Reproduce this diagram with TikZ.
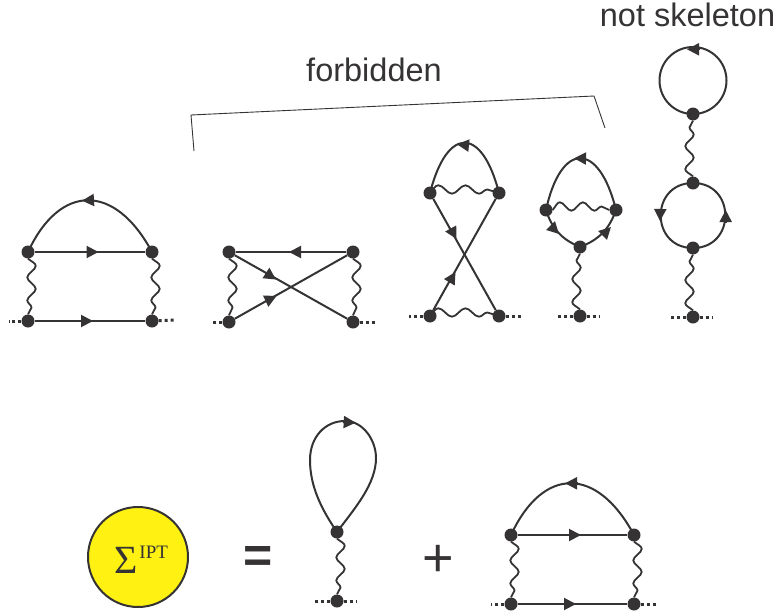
\documentclass[tikz,border=0pt]{standalone}
\usepackage{fontspec}
\setmainfont{Liberation Sans}
\newfontfamily\serifface{Liberation Serif}
\usetikzlibrary{arrows.meta,decorations.pathmorphing}
\definecolor{ink}{HTML}{353334}
\definecolor{selfyellow}{HTML}{FFF212}
\tikzset{
	vertex/.style={circle,fill=ink,inner sep=0pt,minimum size=13pt},
	fermion/.style={draw=ink,line width=2pt},
	tip/.style={draw=ink,line width=2pt,-{Triangle[length=12pt,width=12pt]}},
	photon/.style={draw=ink,line width=1.8pt,decorate,decoration={snake,amplitude=4.2pt,segment length=#1,raise=3.5pt}},
	photon/.default=23pt,
	ext/.style={draw=ink,line width=3pt,dash pattern=on 3pt off 3pt},
	textlabel/.style={text=ink,font=\fontsize{32.5}{32.5}\selectfont,anchor=base},
	signlabel/.style={text=ink,anchor=base,font=\fontsize{#1}{#1}\selectfont}
}
\begin{document}
\begin{tikzpicture}[x=1pt,y=-1pt,line join=round]
	\useasboundingbox (0,0) rectangle (780,616);
	\foreach \nm/\px/\py in {a1/28/252, a2/152/252, a3/28/321, a4/152/321,
		b1/229/252, b2/353/252, b3/229/322, b4/353/322,
		c1/430/193, c2/499/193, c3/430/316, c4/499/316,
		d1/546/210, d2/616/210, d3/580/247, d4/580/316,
		e1/693/114, e2/693/183, e3/693/248, e4/693/317,
		t1/337/532, t2/337/601,
		s1/511/535, s2/634/535, s3/511/604, s4/634/604}
	\node[vertex] (\nm) at (\px,\py) {};
	% dotted legs: vertex and free end
	\foreach \nm/\px/\py/\base in {xa3/9/321/a3, xa4/175/320/a4, xb3/211/322/b3, xb4/376/322/b4,
		xc3/409/316/c3, xc4/521/316/c4, xd3/558/316/d4, xd4/600/316/d4,
		xe3/671/317/e4, xe4/713/317/e4, xt3/315/601/t2, xt4/356/601/t2,
		xs3/491/604/s3, xs4/658/604/s4}
	\draw[ext] (\base) -- (\px,\py) coordinate (\nm);

	% ladder
	\draw[fermion] (a2.center) .. controls (115,183) and (60,183) .. (a1.center);
	\draw[fermion] (a1) -- (a2);
	\draw[fermion] (a3) -- (a4);
	\draw[photon] (a1) -- (a3);
	\draw[photon] (a2) -- (a4);

	% crossed ladder
	\draw[fermion] (b2) -- (b1);
	\draw[fermion] (b1) -- (b4);
	\draw[fermion] (b3) -- (b2);
	\draw[photon] (b1) -- (b3);
	\draw[photon] (b2) -- (b4);

	% crossed pair
	\draw[fermion] (c2.center) .. controls (482,126) and (447,126) .. (c1.center);
	\draw[fermion] (c1) -- (c4);
	\draw[fermion] (c3) -- (c2);
	\draw[photon=27pt] (c1.center) -- (c2.center);
	\draw[photon=27pt] (c3.center) -- (c4.center);

	% bubble on a leg
	\draw[fermion] (d2.center) .. controls (599,141) and (561,141) .. (d1.center);
	\draw[fermion] (d1.center) to[bend right=25] (d3.center);
	\draw[fermion] (d3.center) to[bend right=25] (d2.center);
	\draw[photon] (d1) -- (d2);
	\draw[photon] (d4) -- (d3);

	% chain of two rings
	\draw[fermion] (e1.center) arc[start angle=-90,end angle=270,radius=33.5pt];
	\draw[fermion] (e3.center) to[out=0,in=0,looseness=1.7] (e2.center);
	\draw[fermion] (e2.center) to[out=180,in=180,looseness=1.7] (e3.center);
	\draw[photon] (e2) -- (e1);
	\draw[photon] (e4) -- (e3);

	% bracket
	\coordinate (br1) at (194,151);
	\coordinate (br2) at (191,115);
	\coordinate (br3) at (594,96);
	\coordinate (br4) at (605,128);
	\draw[ink,line width=0.9pt] (br1) -- (br2) -- (br3) -- (br4);
	\node[textlabel] (forbidden) at (374,81) {forbidden};
	\node[textlabel] (notskeleton) at (687.5,26) {not skeleton};

	% second line
	\node[circle,draw=ink,line width=2pt,fill=selfyellow,minimum size=100pt,inner sep=0pt] (sigma) at (138,557) {};
	\node[text=ink,inner sep=0pt,anchor=base west] (sigmatext) at (114,573) {\serifface\fontsize{40}{40}\selectfont Σ\kern2pt\raisebox{15pt}{\fontsize{19}{19}\selectfont IPT}};
	\node[signlabel=50] (equal) at (258,572) {\bfseries =};
	\node[signlabel=54] (plus) at (438.5,576) {+};

	\draw[fermion] (t1.center) .. controls (322,510) and (310,487) .. (310,460)
		.. controls (310,437) and (325,421) .. (345,421)
		.. controls (363,421) and (376,440) .. (376,458)
		.. controls (376,484) and (355,508) .. (t1.center);
	\draw[photon] (t1) -- (t2);

	\draw[fermion] (s2.center) .. controls (597,466) and (543,466) .. (s1.center);
	\draw[fermion] (s1) -- (s2);
	\draw[fermion] (s3) -- (s4);
	\draw[photon] (s1) -- (s3);
	\draw[photon] (s2) -- (s4);

	% arrowheads: base x y, point x y
	\foreach \ax/\ay/\bx/\by in {94/200/82/200.7, 86.5/252/98.5/252, 81/321/93/321,
		301/252/289/252, 266/273/276/279.5, 266/301/276.5/296,
		468.5/145.5/457/144.3, 451/229/456.5/239, 449.5/282/455.5/272,
		585/158.5/574/158.3, 552/227/559/234, 603/235/611/227,
		699/49.3/687/49.3, 660.3/209/660/221, 725.7/222/725.7/210,
		343/422/355.7/422.7,
		577/483.3/565/483.3, 569/535/581/535, 564/604/576/604}
	\draw[tip] (\ax,\ay) -- (\bx,\by);
\end{tikzpicture}
\end{document}
